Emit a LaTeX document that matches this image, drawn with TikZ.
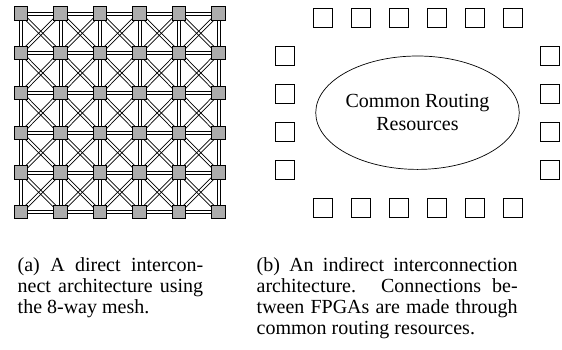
\documentclass[tikz,border=0pt]{standalone}
\usepackage{fontspec}
\setmainfont{Liberation Serif}
\usetikzlibrary{calc,shapes.geometric}
\newcommand\dline[2]{%
  \draw[conn] ($(#1)!1.5pt!90:(#2)$) -- ($(#2)!1.5pt!-90:(#1)$);
  \draw[conn] ($(#1)!1.5pt!-90:(#2)$) -- ($(#2)!1.5pt!90:(#1)$);}
\begin{document}
\begin{tikzpicture}[x=1pt,y=-1pt,
  conn/.style={line width=0.7pt},
  fpga/.style={draw,line width=0.8pt,fill=gray!65,minimum size=13.5pt,inner sep=0pt},
  wbox/.style={draw,line width=0.8pt,fill=white,minimum size=19pt,inner sep=0pt},
  captext/.style={inner sep=0pt,align=justify,font=\fontsize{20}{21}\selectfont,anchor=base west}]
\useasboundingbox (0,0) rectangle (562,349);
% mesh nodes
\foreach \i/\x in {1/21,2/60.5,3/100,4/139.5,5/179,6/218.5}{
  \foreach \j/\y in {1/13.5,2/53,3/93,4/133,5/172.5,6/212}{
    \coordinate (c\i\j) at (\x,\y);
  }}
% diagonals
\foreach \i [evaluate=\i as \ii using int(\i+1)] in {1,...,5}{
  \foreach \j [evaluate=\j as \jj using int(\j+1)] in {1,...,5}{
    \dline{c\i\j}{c\ii\jj}
    \dline{c\ii\j}{c\i\jj}
  }}
% horizontal and vertical
\foreach \i [evaluate=\i as \ii using int(\i+1)] in {1,...,5}{
  \foreach \j in {1,...,6}{
    \dline{c\i\j}{c\ii\j}
    \dline{c\j\i}{c\j\ii}
  }}
\foreach \i/\x in {1/21,2/60.5,3/100,4/139.5,5/179,6/218.5}{
  \foreach \j/\y in {1/13.5,2/53,3/93,4/133,5/172.5,6/212}{
    \node[fpga] (m\i\j) at (\x,\y) {};
  }}
% indirect architecture
\foreach \k/\x in {1/322.7,2/360.7,3/398.8,4/436.8,5/474.8,6/512.8}{
  \node[wbox] (t\k) at (\x,17.8) {};
  \node[wbox] (b\k) at (\x,208.2) {};
}
\foreach \k/\y in {1/56.3,2/94.3,3/132.2,4/170.2}{
  \node[wbox] (l\k) at (285.3,\y) {};
  \node[wbox] (r\k) at (550.3,\y) {};
}
\node[draw,line width=0.7pt,ellipse,minimum width=190.4pt,minimum height=113.4pt,inner sep=0pt,
  align=center,font=\fontsize{20}{23}\selectfont] (crr) at (417.5,112.7) {Common Routing\\Resources};
% captions
\node[captext,text width=185.5pt] (capa) at (17.5,271) {(a) A direct intercon-\linebreak nect architecture using\linebreak the 8-way mesh.};
\node[captext,text width=261pt] (capb) at (256.5,271) {(b) An indirect interconnection\linebreak architecture. Connections be-\linebreak tween FPGAs are made through\linebreak common routing resources.};
\end{tikzpicture}
\end{document}
